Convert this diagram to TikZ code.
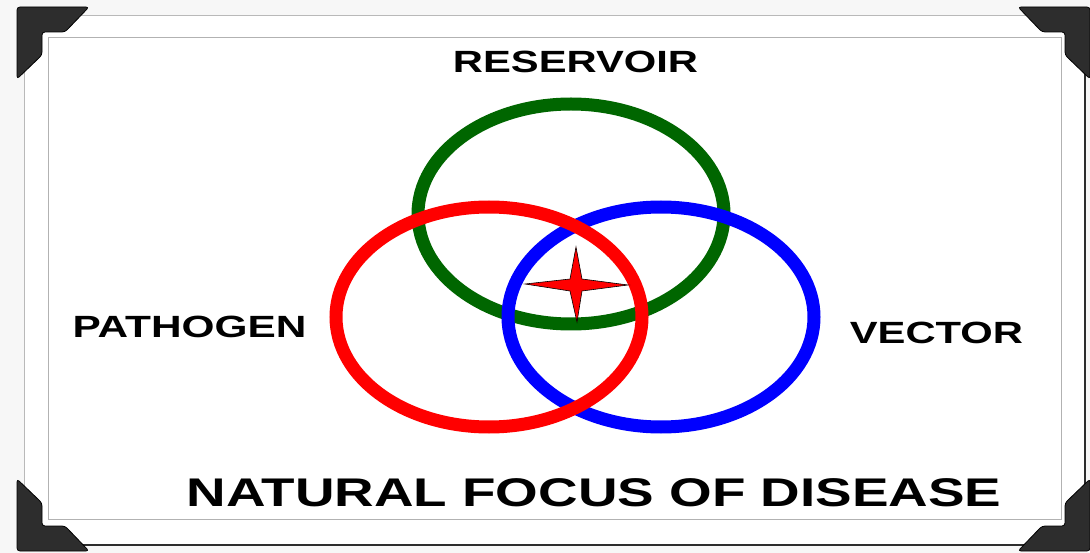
\documentclass[tikz,border=0pt]{standalone}
\usepackage{fontspec}
\setmainfont{Liberation Sans}
\usetikzlibrary{shapes.geometric}
\definecolor{rgreen}{RGB}{0,102,0}
\definecolor{rred}{RGB}{255,0,0}
\definecolor{rblue}{RGB}{0,0,255}
\definecolor{bracketc}{RGB}{45,45,45}
\tikzset{
  ring/.style={line width=13pt},
  lbl/.style={font=\fontsize{30.7}{32}\selectfont\bfseries, inner sep=0pt},
  bigl/.style={font=\fontsize{40}{42}\selectfont\bfseries, inner sep=0pt},
  bracket/.style={fill=bracketc, draw=black, line width=0.8pt, rounded corners=3pt},
}
\newcommand{\bracketpath}{(0,0) -- (72,0) -- (48,25) -- (25,25) -- (25,48) -- (0,72) -- cycle}
\begin{document}
\begin{tikzpicture}[x=1pt,y=-1pt]
\useasboundingbox (0,0) rectangle (1090,553);
\fill[gray!6] (0,0) rectangle (1090,553);
% outer frame
\fill[white] (24,15) rectangle (1085,545);
\draw[gray!55, line width=0.8pt] (1085,15) -- (24,15) -- (24,545);
\draw[bracketc, line width=2.5pt] (24,545) -- (1085,545) -- (1085,15);
% inner frame
\draw[gray!60, line width=1pt] (48,38) rectangle (1061,519);
% corner brackets
\draw[bracket] [shift={(17,7)}] \bracketpath;
\draw[bracket] [shift={(1090,7)}, xscale=-1] \bracketpath;
\draw[bracket] [shift={(17,551)}, yscale=-1] \bracketpath;
\draw[bracket] [shift={(1090,551)}, xscale=-1, yscale=-1] \bracketpath;
% rings
\draw[ring, rgreen] (571,214) ellipse [x radius=153, y radius=110];
\draw[ring, rblue] (661,317) ellipse [x radius=153, y radius=110];
\draw[ring, rred] (489,317) ellipse [x radius=153, y radius=110];
% star
\draw[fill=rred, draw=black, line width=0.6pt]
  (576,247) -- (582,279) -- (628,285) -- (582,291) -- (577,322)
  -- (570,291) -- (525,284) -- (570,279) -- cycle;
% labels
\node[lbl] (reservoir) at (575.5,62) {\scalebox{1.36}[1]{RESERVOIR}};
\node[lbl] (pathogen) at (189.5,327) {\scalebox{1.38}[1]{PATHOGEN}};
\node[lbl] (vector) at (936.5,333) {\scalebox{1.36}[1]{VECTOR}};
\node[bigl] (title) at (594,493) {\scalebox{1.37}[1]{NATURAL FOCUS OF DISEASE}};
\end{tikzpicture}
\end{document}
